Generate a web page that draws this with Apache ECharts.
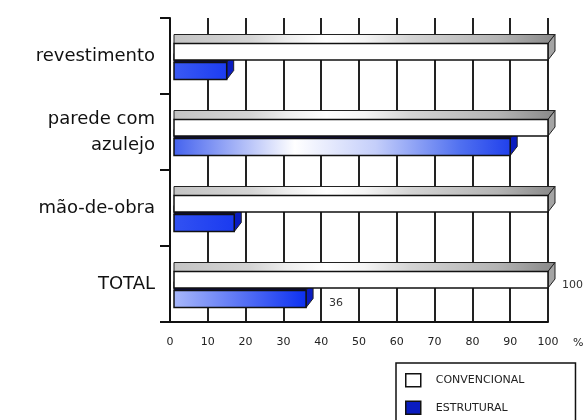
<!DOCTYPE html>
<html>
<head>
<meta charset="utf-8">
<script src="https://cdn.jsdelivr.net/npm/echarts@6/dist/echarts.min.js"></script>
<style>
  html, body { margin: 0; padding: 0; background: #fff; }
  #chart { width: 588px; height: 420px; }
</style>
</head>
<body>
<div id="chart"></div>
<script>
// data
const categories = ['revestimento', 'parede com\nazulejo', 'mão-de-obra', 'TOTAL'];
const seriesNames = ['CONVENCIONAL', 'ESTRUTURAL'];
const convencional = [100, 100, 100, 100];
const estrutural = [15, 90, 17, 36];
const labelledCategory = 'TOTAL';
const xMin = 0, xMax = 100, xStep = 10;

// front face shading of the blue bars, one per category
const blueFaces = [
  [[0, '#3a5af4'], [1, '#1c3cf0']],
  [[0, '#4462ee'], [0.36, '#ffffff'], [0.6, '#c4cefa'], [0.85, '#5070f0'], [1, '#2040ec']],
  [[0, '#3252f2'], [1, '#1a3af0']],
  [[0, '#a8b8fa'], [1, '#0c30f0']]
];

const greyTop = new echarts.graphic.LinearGradient(0, 0, 1, 0, [
  { offset: 0, color: '#c4c4c4' },
  { offset: 0.2, color: '#d4d4d4' },
  { offset: 0.3, color: '#eeeeee' },
  { offset: 0.4, color: '#ffffff' },
  { offset: 0.5, color: '#f4f4f4' },
  { offset: 0.62, color: '#d4d4d4' },
  { offset: 0.85, color: '#b4b4b4' },
  { offset: 1, color: '#888888' }
]);

const dx = 7, dy = -9;

function bar3d(params, api, opt) {
  const cat = api.value(1);
  const v = api.value(0);
  const start = api.coord([0, cat]);
  const x0 = start[0] + 4;
  const x1 = api.coord([v, cat])[0];
  const c = start[1];
  const top = c + opt.top, bot = c + opt.bot;
  const children = [
    {
      type: 'polygon',
      shape: { points: [[x0, top], [x1, top], [x1 + dx, top + dy], [x0, top + dy]] },
      style: { fill: opt.topFill, stroke: '#222', lineWidth: 1 }
    },
    {
      type: 'polygon',
      shape: { points: [[x1, top], [x1 + dx, top + dy], [x1 + dx, bot + dy], [x1, bot]] },
      style: { fill: opt.sideFill, stroke: '#222', lineWidth: 1 }
    },
    {
      type: 'rect',
      shape: { x: x0, y: top, width: x1 - x0, height: bot - top },
      style: { fill: opt.frontFill(cat), stroke: '#111', lineWidth: 1.5 }
    }
  ];
  if (categories[cat] === labelledCategory) {
    children.push({
      type: 'text',
      x: x1 + opt.labelDx,
      y: c + opt.labelDy,
      style: {
        text: String(v),
        fill: '#333',
        fontSize: 11,
        fontFamily: 'DejaVu Sans',
        verticalAlign: 'middle'
      }
    });
  }
  return { type: 'group', children: children };
}

const chart = echarts.init(document.getElementById('chart'));

const option = {
  animation: false,
  textStyle: { fontFamily: 'DejaVu Sans' },
  grid: { left: 170, right: 40, top: 18, bottom: 98 },
  xAxis: {
    type: 'value',
    min: xMin,
    max: xMax,
    interval: xStep,
    name: '%',
    nameLocation: 'end',
    nameGap: 25,
    nameTextStyle: { fontSize: 11, color: '#222', verticalAlign: 'top', padding: [16, 0, 0, 0] },
    axisLine: { show: true, lineStyle: { color: '#111', width: 2 } },
    axisTick: { show: false },
    axisLabel: { fontSize: 11, color: '#222', margin: 15 },
    splitLine: { show: true, lineStyle: { color: '#222', width: 2 } }
  },
  yAxis: {
    type: 'category',
    data: categories,
    inverse: true,
    axisLine: { show: true, lineStyle: { color: '#111', width: 2 } },
    axisTick: { show: true, length: 10, lineStyle: { color: '#111', width: 2 } },
    axisLabel: {
      fontSize: 18,
      color: '#111',
      lineHeight: 26,
      margin: 15,
      align: 'right',
      padding: [0, 0, 10, 0]
    },
    splitLine: { show: false }
  },
  legend: {
    orient: 'vertical',
    left: 396,
    top: 363,
    height: 80,
    padding: [10, 51, 14, 9],
    itemWidth: 15,
    itemHeight: 13,
    itemGap: 13,
    borderColor: '#111',
    borderWidth: 1.5,
    selectedMode: false,
    textStyle: { fontSize: 11, color: '#222', padding: [0, 0, 0, 10] },
    data: [
      { name: seriesNames[0], icon: 'rect', itemStyle: { color: '#fff', borderColor: '#111', borderWidth: 1.5 } },
      { name: seriesNames[1], icon: 'rect', itemStyle: { color: '#0a1cc0', borderColor: '#111', borderWidth: 1.5 } }
    ]
  },
  series: [
    {
      name: seriesNames[0],
      type: 'custom',
      z: 4,
      itemStyle: { color: '#fff' },
      encode: { x: 0, y: 1 },
      data: convencional.map((v, i) => [v, i]),
      renderItem: (params, api) => bar3d(params, api, {
        top: -12.5, bot: 4,
        topFill: greyTop,
        sideFill: '#a4a4a4',
        frontFill: () => '#ffffff',
        labelDx: 14, labelDy: 1
      })
    },
    {
      name: seriesNames[1],
      type: 'custom',
      z: 3,
      itemStyle: { color: '#0a1cc0' },
      encode: { x: 0, y: 1 },
      data: estrutural.map((v, i) => [v, i]),
      renderItem: (params, api) => bar3d(params, api, {
        top: 6.5, bot: 23.5,
        topFill: '#0c0c3a',
        sideFill: '#0a1cc0',
        frontFill: (cat) => new echarts.graphic.LinearGradient(0, 0, 1, 0,
          blueFaces[cat].map(s => ({ offset: s[0], color: s[1] }))),
        labelDx: 23, labelDy: 19
      })
    }
  ]
};

chart.setOption(option);
</script>
</body>
</html>
